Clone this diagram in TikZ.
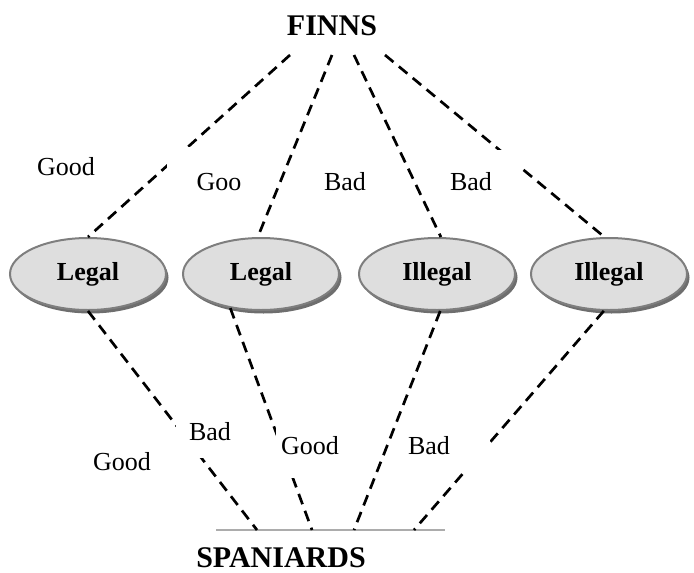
\documentclass[tikz,border=0pt]{standalone}
\usepackage{fontspec}
\setmainfont{Liberation Serif}
\usetikzlibrary{shapes.geometric,shadows}
\definecolor{ellfill}{HTML}{DEDEDE}
\definecolor{elldraw}{HTML}{7E7E7E}
\definecolor{shadowc}{HTML}{6E6E6E}
\tikzset{
  oval/.style={ellipse, draw=elldraw, line width=2pt, fill=ellfill,
    minimum width=156pt, minimum height=72pt, inner sep=0pt,
    font=\fontsize{26}{30}\selectfont\bfseries,
    drop shadow={opacity=1, fill=shadowc, shadow xshift=2.5pt, shadow yshift=-3.5pt}},
  lbl/.style={font=\fontsize{26}{30}\selectfont, inner sep=0pt},
  title/.style={font=\fontsize{30}{34}\selectfont\bfseries, inner sep=0pt},
  conn/.style={draw=black, line width=2.7pt, dash pattern=on 11pt off 7pt},
  baseln/.style={draw=gray!65, line width=2.5pt},
  labelbg/.style={fill=white}
}
\begin{document}
\begin{tikzpicture}[x=1pt,y=-1pt]
\useasboundingbox (0,0) rectangle (694,573);
% titles
\node[title] (finns) at (332,26) {FINNS};
\node[title] (spain) at (281,558) {SPANIARDS};
% ellipses
\node[oval] (e1) at (88,274) {Legal};
\node[oval] (e2) at (261,274) {Legal};
\node[oval] (e3) at (437,274) {Illegal};
\node[oval] (e4) at (609,274) {Illegal};
% top end points
\coordinate (f1) at (290,55);
\coordinate (f2) at (332,55);
\coordinate (f3) at (354,55);
\coordinate (f4) at (385,55);
% base line
\coordinate (bl) at (216,530);
\coordinate (br) at (445,530);
\coordinate (s1) at (257,530);
\coordinate (s2) at (312,530);
\coordinate (s3) at (354,530);
\coordinate (s4) at (414,530);
\draw[baseln] (bl) -- (br);
% connectors to Finns
\draw[conn] (f1) -- (e1.north);
\draw[conn] (f2) -- (e2.95);
\draw[conn] (f3) -- (e3.84);
\draw[conn] (f4) -- (e4.97);
% connectors to Spaniards
\draw[conn] (e1.south) -- (s1);
\draw[conn] (e2.228) -- (s2);
\draw[conn] (e3.275) -- (s3);
\draw[conn] (e4.262) -- (s4);
% white text-box backgrounds of the labels (they cut the lines)
\fill[labelbg] (167,147) rectangle (262,196);
\fill[labelbg] (440,150) rectangle (520,200);
\fill[labelbg] (176,418) rectangle (236,458);
\fill[labelbg] (276,425) rectangle (346,478);
\fill[labelbg] (403,425) rectangle (490,472);
% labels
\node[lbl] (l1) at (66,167) {Good};
\node[lbl] (l2) at (219,182) {Goo};
\node[lbl] (l3) at (345,182) {Bad};
\node[lbl] (l4) at (471,182) {Bad};
\node[lbl] (l5) at (210,432) {Bad};
\node[lbl] (l6) at (122,462) {Good};
\node[lbl] (l7) at (310,446) {Good};
\node[lbl] (l8) at (429,446) {Bad};
\end{tikzpicture}
\end{document}
